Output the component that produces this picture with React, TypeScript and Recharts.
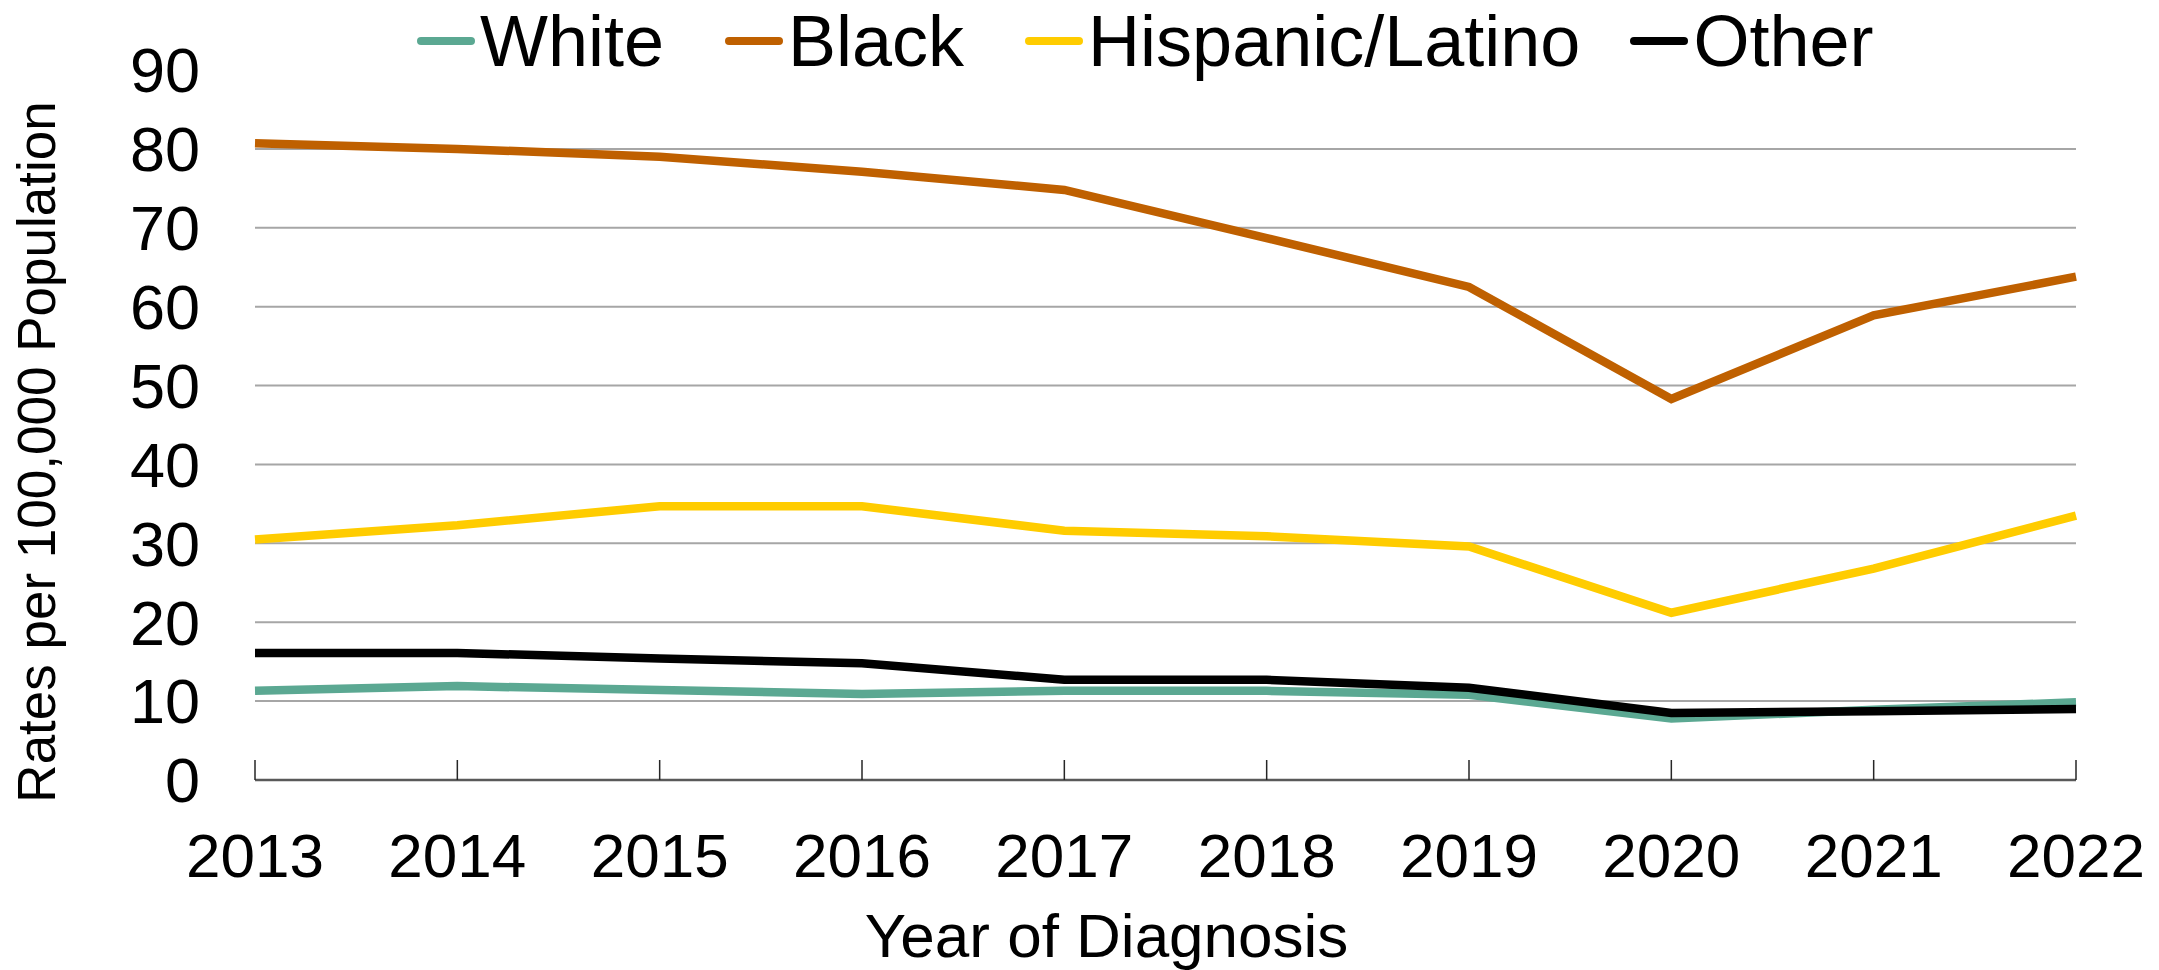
import React from 'react';
import { LineChart, Line, XAxis, YAxis, CartesianGrid, Legend } from 'recharts';

const years = ['2013', '2014', '2015', '2016', '2017', '2018', '2019', '2020', '2021', '2022'];
const white = [11.3, 11.9, 11.4, 10.9, 11.3, 11.3, 10.8, 7.8, 8.9, 9.85];
const black = [80.7, 80.0, 79.0, 77.1, 74.8, 68.7, 62.5, 48.3, 58.9, 63.8];
const hispanic = [30.5, 32.3, 34.7, 34.7, 31.6, 30.9, 29.6, 21.2, 26.8, 33.5];
const other = [16.1, 16.1, 15.4, 14.8, 12.7, 12.7, 11.7, 8.5, 8.7, 9.0];

const yTicks = [0, 10, 20, 30, 40, 50, 60, 70, 80, 90];
const gridValues = [10, 20, 30, 40, 50, 60, 70, 80];

const seriesList = [
  { key: 'white', name: 'White', color: '#5BA892' },
  { key: 'black', name: 'Black', color: '#BF6000' },
  { key: 'hispanic', name: 'Hispanic/Latino', color: '#FFCC00' },
  { key: 'other', name: 'Other', color: '#000000' },
];

const data = years.map((y, i) => ({
  year: y,
  white: white[i],
  black: black[i],
  hispanic: hispanic[i],
  other: other[i],
}));

const FONT = '"Liberation Sans", Arial, sans-serif';

const XTick = (props: any) => {
  const { x, y, payload } = props;
  return (
    <g>
      <line x1={x} x2={x} y1={y} y2={y - 20} stroke="#262626" strokeWidth={1.5} />
      <text x={x} y={y + 97} textAnchor="middle" fontSize={62} fontFamily={FONT} fill="#000">
        {payload.value}
      </text>
    </g>
  );
};

const renderLegend = () => {
  const gaps = [0, 61, 61, 50];
  return (
    <div style={{ display: 'flex', alignItems: 'center', paddingLeft: 409, height: 72 }}>
      {seriesList.map((s, i) => (
        <div key={s.key} style={{ display: 'flex', alignItems: 'center', marginLeft: gaps[i] }}>
          <svg width={58} height={12} style={{ display: 'block' }}>
            <line x1={4} x2={54} y1={6} y2={6} stroke={s.color} strokeWidth={8} strokeLinecap="round" />
          </svg>
          <span
            style={{
              marginLeft: 5,
              fontSize: 72,
              lineHeight: '72px',
              fontFamily: FONT,
              color: '#000',
              whiteSpace: 'nowrap',
            }}
          >
            {s.name}
          </span>
        </div>
      ))}
    </div>
  );
};

const YLabel = () => {
  return (
    <text
      x={47}
      y={444}
      transform="rotate(-90, 47, 444)"
      textAnchor="middle"
      fontSize={53}
      fontFamily={FONT}
      fill="#000"
    >
      Rates per 100,000 Population
    </text>
  );
};

const XLabel = (props: any) => {
  const vb = props.viewBox || {};
  const cx = vb.x + vb.width / 2 - 59;
  return (
    <text x={cx} y={vb.y + 177} textAnchor="middle" fontSize={62} fontFamily={FONT} fill="#000">
      Year of Diagnosis
    </text>
  );
};

export default function App() {
  return (
    <div style={{ width: 2151, height: 962, position: 'relative', background: '#fff' }}>
      <LineChart
        width={2151}
        height={962}
        data={data}
        margin={{ top: 62, right: 83, bottom: 0, left: 0 }}
      >
        <CartesianGrid
          vertical={false}
          horizontalValues={gridValues}
          stroke="#A6A6A6"
          strokeWidth={2}
        />
        <XAxis
          dataKey="year"
          interval={0}
          height={190}
          tickSize={0}
          tickMargin={0}
          tickLine={false}
          axisLine={{ stroke: '#595959', strokeWidth: 2.5 }}
          tick={<XTick />}
          label={{ content: <XLabel /> }}
        />
        <YAxis
          domain={[0, 90]}
          ticks={yTicks}
          width={247}
          axisLine={false}
          tickLine={false}
          tickSize={0}
          tickMargin={55}
          tick={{ fontSize: 63, fontFamily: FONT, fill: '#000' }}
          label={{ content: <YLabel /> }}
        />
        <Legend
          layout="horizontal"
          align="center"
          verticalAlign="middle"
          content={renderLegend}
          wrapperStyle={{ position: 'absolute', top: -3, left: 0, width: 2151 }}
        />
        {seriesList.map((s) => (
          <Line
            key={s.key}
            type="linear"
            dataKey={s.key}
            name={s.name}
            stroke={s.color}
            strokeWidth={8.5}
            dot={false}
            activeDot={false}
            isAnimationActive={false}
          />
        ))}
      </LineChart>
    </div>
  );
}
